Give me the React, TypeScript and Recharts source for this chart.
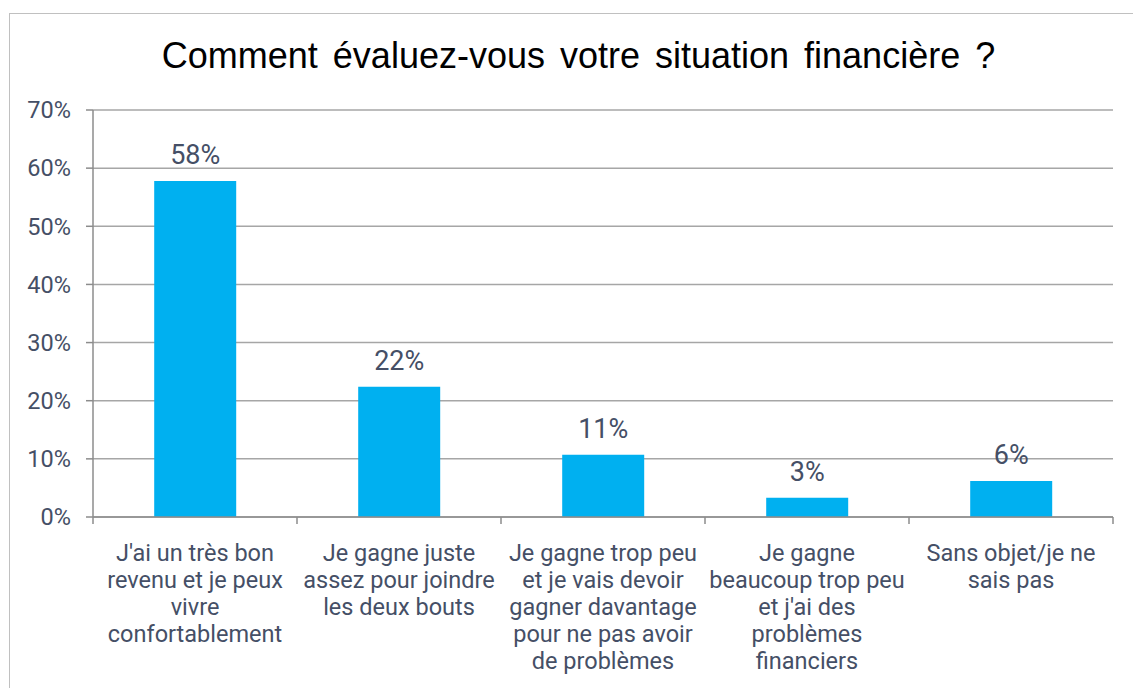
import React from "react";
import { BarChart, Bar, XAxis, YAxis, CartesianGrid, LabelList } from "recharts";

const categories = [
  "J'ai un très bon\nrevenu et je peux\nvivre\nconfortablement",
  "Je gagne juste\nassez pour joindre\nles deux bouts",
  "Je gagne trop peu\net je vais devoir\ngagner davantage\npour ne pas avoir\nde problèmes",
  "Je gagne\nbeaucoup trop peu\net j'ai des\nproblèmes\nfinanciers",
  "Sans objet/je ne\nsais pas",
];
const shares = [57.8, 22.4, 10.7, 3.3, 6.2];
const yTicks = [0, 10, 20, 30, 40, 50, 60, 70];

const data = categories.map((label, i) => ({ label, value: shares[i] }));

const W = 1133;
const H = 688;
const LEFT = 93;
const RIGHT = 20;
const BAND = (W - LEFT - RIGHT) / categories.length;
const TEXT = "#454f66";
const AXIS = "#8c8c8c";

function CategoryTick(props: any) {
  const { x, y, payload, index } = props;
  const lines = String(payload.value).split("\n");
  const left = x - BAND / 2;
  return (
    <g>
      <line x1={left} x2={left} y1={y - 8} y2={y - 1} stroke={AXIS} strokeWidth={1.5} />
      {index === categories.length - 1 && (
        <line x1={left + BAND} x2={left + BAND} y1={y - 8} y2={y - 1} stroke={AXIS} strokeWidth={1.5} />
      )}
      <text x={x} y={y + 36} textAnchor="middle" fill={TEXT} fontSize={23.5} fontFamily="Roboto">
        {lines.map((l, i) => (
          <tspan key={i} x={x} dy={i === 0 ? 0 : 27}>
            {l}
          </tspan>
        ))}
      </text>
    </g>
  );
}

export default function App() {
  return (
    <div style={{ position: "absolute", left: 0, top: 0, width: W, height: H, background: "#fff", overflow: "hidden" }}>
      <div
        style={{
          position: "absolute",
          left: 9,
          top: 13,
          width: W,
          height: H,
          border: "1px solid #c0c0c0",
        }}
      />
      <div
        style={{
          position: "absolute",
          left: 0,
          width: W,
          top: 35,
          textAlign: "center",
          fontFamily: "'Liberation Sans', Arial, sans-serif",
          fontSize: 36,
          wordSpacing: 5,
          color: "#000",
          paddingLeft: 24,
          boxSizing: "border-box",
          whiteSpace: "nowrap",
        }}
      >
        Comment évaluez-vous votre situation financière ?
      </div>
      <div style={{ position: "absolute", left: 0, top: 0 }}>
        <BarChart width={W} height={H} data={data} margin={{ top: 110, right: RIGHT, bottom: 0, left: 0 }} barCategoryGap="30%">
          <CartesianGrid vertical={false} stroke="#a6a6a6" strokeWidth={1.5} />
          <YAxis
            width={LEFT}
            domain={[0, 70]}
            ticks={yTicks}
            tickFormatter={(v: number) => `${v}%`}
            tick={{ fill: TEXT, fontSize: 23.5, fontFamily: "Roboto" }}
            tickSize={7}
            tickMargin={15}
            axisLine={{ stroke: AXIS, strokeWidth: 1.5 }}
            tickLine={{ stroke: AXIS, strokeWidth: 1.5 }}
          />
          <XAxis
            dataKey="label"
            height={171}
            interval={0}
            tick={<CategoryTick />}
            tickLine={false}
            axisLine={{ stroke: AXIS, strokeWidth: 1.5 }}
          />
          <Bar dataKey="value" fill="#00b0f0" isAnimationActive={false}>
            <LabelList
              dataKey="value"
              position="top"
              offset={17}
              formatter={(v: any) => `${Math.round(Number(v))}%`}
              fill={TEXT}
              fontSize={27}
              fontFamily="Roboto"
            />
          </Bar>
        </BarChart>
      </div>
    </div>
  );
}
